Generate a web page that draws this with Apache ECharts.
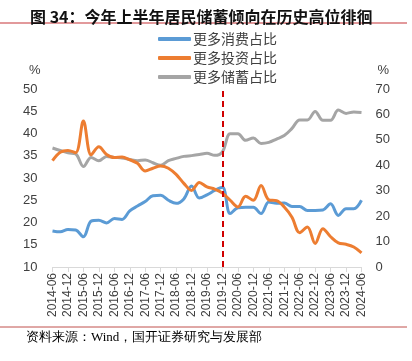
<!DOCTYPE html>
<html><head><meta charset="utf-8">
<script src="https://cdn.jsdelivr.net/npm/echarts@6/dist/echarts.min.js"></script>
<style>html,body{margin:0;padding:0;background:#fff}#c{width:412px;height:361px}</style>
</head><body><div id="c"></div>
<script>
var categories = ["2014-06","2014-09","2014-12","2015-03","2015-06","2015-09","2015-12","2016-03","2016-06","2016-09","2016-12",
"2017-03","2017-06","2017-09","2017-12","2018-03","2018-06","2018-09","2018-12","2019-03","2019-06","2019-09","2019-12",
"2020-03","2020-06","2020-09","2020-12","2021-03","2021-06","2021-09","2021-12","2022-03","2022-06","2022-09","2022-12",
"2023-03","2023-06","2023-09","2023-12","2024-03","2024-06"];
var consume = [18.1,17.9,18.4,18.3,16.8,20.3,20.5,19.9,20.9,20.7,22.6,23.7,24.7,26.0,26.1,25.0,24.3,25.3,28.2,25.5,26.2,27.2,27.9,
22.0,23.3,23.4,23.4,22.0,24.6,24.3,24.4,23.6,23.6,22.7,22.7,22.8,24.2,21.6,23.1,23.1,25.0];
var invest = [33.9,35.8,36.2,35.7,42.8,35.2,37.0,35.3,34.6,34.7,34.1,33.3,31.6,32.2,32.7,32.2,30.8,28.8,27.2,29.0,28.0,27.5,26.6,
25.0,23.5,25.9,25.0,28.3,25.1,24.9,23.5,21.2,17.7,19.0,15.3,18.6,16.8,15.4,15.1,14.5,13.2];
var savings = [46.8,45.8,44.9,44.5,39.5,43.1,41.8,43.5,43.1,42.9,42.3,41.8,42.1,41.0,40.0,41.8,42.7,43.5,43.8,44.2,44.7,43.9,45.3,
52.4,52.4,49.8,50.7,48.6,49.0,50.3,51.7,54.5,57.8,57.8,61.2,57.7,57.7,61.7,60.4,61.0,60.8];
var seriesNames = ["更多消费占比","更多投资占比","更多储蓄占比"];
var markDate = "2019-12";

var chart = echarts.init(document.getElementById('c'), null, {renderer:'canvas'});
var axisLabelColor = '#404040';
chart.setOption({
  animation:false,
  title:{text:'图 34：今年上半年居民储蓄倾向在历史高位徘徊', left:25, top:4,
    textStyle:{fontSize:16, fontWeight:'bold', color:'#111', fontFamily:'"Noto Sans CJK SC", sans-serif'}},
  legend:{orient:'vertical', left:153, top:27, itemWidth:33, itemHeight:4, itemGap:5, icon:'roundRect',
    textStyle:{fontSize:14, lineHeight:14, color:'#404040', fontFamily:'"Noto Sans CJK SC", sans-serif', padding:[0,0,0,-3]},
    data:seriesNames},
  grid:{left:52.5, right:50.5, top:89, bottom:94, containLabel:false},
  xAxis:{type:'category', data:categories, boundaryGap:false,
    axisLine:{lineStyle:{color:'#d9d9d9', width:1}},
    axisTick:{show:true, interval:1, length:5, lineStyle:{color:'#d9d9d9'}},
    axisLabel:{interval:1, rotate:90, fontSize:12, color:axisLabelColor, margin:6, fontFamily:'"Liberation Sans", Arial, sans-serif'}},
  yAxis:[
    {type:'value', min:10, max:50, interval:5, name:'%', nameLocation:'end', nameGap:12,
      nameTextStyle:{color:axisLabelColor, fontSize:13, align:'right', padding:[0,12,0,0]},
      axisLine:{show:false}, axisTick:{show:false}, splitLine:{show:false},
      axisLabel:{fontSize:13, color:axisLabelColor, margin:15, fontFamily:'"Liberation Sans", Arial, sans-serif'}},
    {type:'value', min:0, max:70, interval:10, name:'%', nameLocation:'end', nameGap:12,
      nameTextStyle:{color:axisLabelColor, fontSize:13, align:'left', padding:[0,0,0,16]},
      axisLine:{show:false}, axisTick:{show:false}, splitLine:{show:false},
      axisLabel:{fontSize:13, color:axisLabelColor, margin:14, fontFamily:'"Liberation Sans", Arial, sans-serif'}}
  ],
  series:[
    {name:seriesNames[0], type:'line', yAxisIndex:0, data:consume, smooth:0.35, symbol:'none',
      lineStyle:{color:'#5B9BD5', width:3}, itemStyle:{color:'#5B9BD5'}, z:3},
    {name:seriesNames[1], type:'line', yAxisIndex:0, data:invest, smooth:0.35, symbol:'none',
      lineStyle:{color:'#ED7D31', width:3}, itemStyle:{color:'#ED7D31'}, z:4,
      markLine:{silent:true, symbol:'none', label:{show:false},
        lineStyle:{color:'#d00000', type:[6,4], width:2},
        data:[[{coord:[markDate, 10]}, {coord:[markDate, 49.8]}]]}},
    {name:seriesNames[2], type:'line', yAxisIndex:1, data:savings, smooth:0.35, symbol:'none',
      lineStyle:{color:'#A5A5A5', width:3}, itemStyle:{color:'#A5A5A5'}, z:2}
  ],
  graphic:[
    {type:'line', shape:{x1:0, y1:23, x2:407, y2:23}, style:{stroke:'#d9777a', lineWidth:1.5}},
    {type:'line', shape:{x1:0, y1:327, x2:407, y2:327}, style:{stroke:'#c0504d', lineWidth:1}},
    {type:'text', left:26, top:331, style:{text:'资料来源：Wind，国开证券研究与发展部', fontSize:13, fill:'#000',
      fontFamily:'serif'}}
  ]
});
</script></body></html>
